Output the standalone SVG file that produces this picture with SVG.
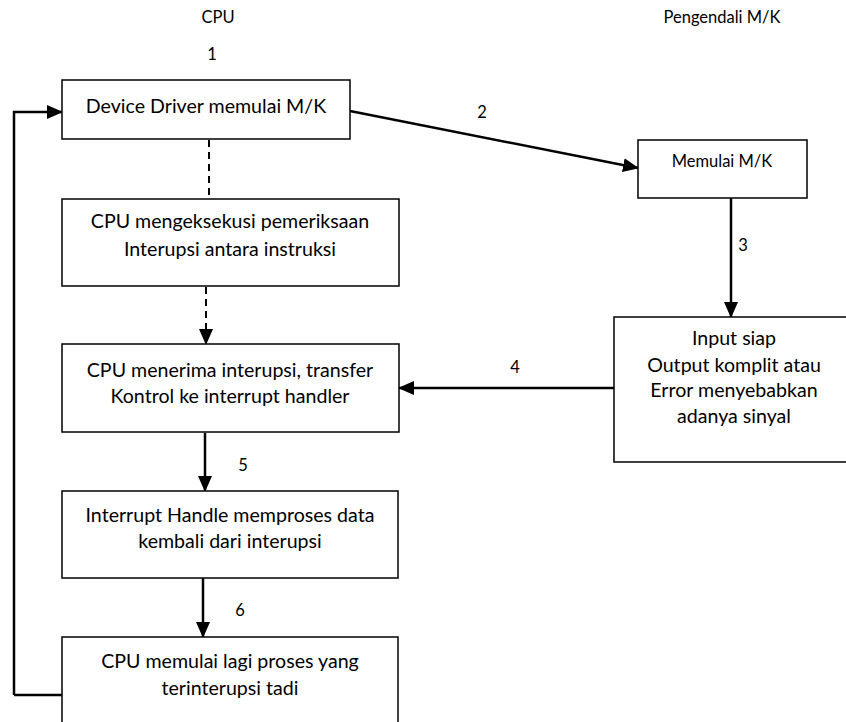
<svg xmlns="http://www.w3.org/2000/svg" width="846" height="722" viewBox="0 0 846 722">
  <defs>
    <marker id="arrowL" markerWidth="16" markerHeight="14" refX="15" refY="7" orient="auto" markerUnits="userSpaceOnUse" viewBox="0 0 16 14">
      <path d="M0,0 L16,7 L0,14 Z" fill="#000"/>
    </marker>
  </defs>
  <style>
    .box { fill: #fff; stroke: #000; stroke-width: 1.5; }
    .t { font-family: Lato, "Open Sans", "Liberation Sans", sans-serif; font-size: 19.6px; fill: #000; text-anchor: middle; }
    .s { font-family: Lato, "Open Sans", "Liberation Sans", sans-serif; font-size: 16.5px; fill: #000; text-anchor: middle; }
    .line { fill: none; stroke: #000; stroke-width: 2.5; }
    .dash { fill: none; stroke: #000; stroke-width: 2; stroke-dasharray: 7 5; }
  </style>
  <rect width="846" height="722" fill="#fff"/>

  <!-- column headings and step numbers -->
  <g id="labels">
    <text class="s" x="218" y="23">CPU</text>
    <text class="s" x="722" y="23">Pengendali M/K</text>
    <text class="s" x="212" y="60">1</text>
    <text class="s" x="482" y="118">2</text>
    <text class="s" x="743" y="251">3</text>
    <text class="s" x="515" y="373">4</text>
    <text class="s" x="243" y="471">5</text>
    <text class="s" x="240" y="616">6</text>
  </g>

  <!-- connectors -->
  <g id="connectors">
    <path class="line" d="M14,695 L14,112 L62,112" marker-end="url(#arrowL)"/>
    <path class="line" d="M350,111 L638,168" marker-end="url(#arrowL)"/>
    <path class="line" d="M731,198 L731,317" marker-end="url(#arrowL)"/>
    <path class="line" d="M614,388 L399,388" marker-end="url(#arrowL)"/>
    <path class="dash" d="M209,140 L209,199"/>
    <path class="dash" d="M206,287 L206,344" marker-end="url(#arrowL)"/>
    <path class="line" d="M205,433 L205,491" marker-end="url(#arrowL)"/>
    <path class="line" d="M203,578 L203,637" marker-end="url(#arrowL)"/>
    <path class="line" d="M14,695 L62,695"/>
  </g>

  <g id="n1">
    <rect class="box" x="62" y="80" width="288" height="59"/>
    <text class="t" x="206" y="113">Device Driver memulai M/K</text>
  </g>
  <g id="n2">
    <rect class="box" x="62" y="199" width="337" height="87"/>
    <text class="t" x="230" y="228">CPU mengeksekusi pemeriksaan</text>
    <text class="t" x="230" y="256">Interupsi antara instruksi</text>
  </g>
  <g id="n3">
    <rect class="box" x="62" y="344" width="337" height="88"/>
    <text class="t" x="230" y="377">CPU menerima interupsi, transfer</text>
    <text class="t" x="230" y="403">Kontrol ke interrupt handler</text>
  </g>
  <g id="n4">
    <rect class="box" x="62" y="491" width="336" height="87"/>
    <text class="t" x="230" y="522">Interrupt Handle memproses data</text>
    <text class="t" x="230" y="548">kembali dari interupsi</text>
  </g>
  <g id="n5">
    <rect class="box" x="62" y="637" width="336" height="90"/>
    <text class="t" x="230" y="668">CPU memulai lagi proses yang</text>
    <text class="t" x="230" y="695">terinterupsi tadi</text>
  </g>
  <g id="n6">
    <rect class="box" x="638" y="140" width="169" height="58"/>
    <text class="s" x="722" y="167">Memulai M/K</text>
  </g>
  <g id="n7">
    <rect class="box" x="614" y="317" width="236" height="145"/>
    <text class="t" x="734" y="345">Input siap</text>
    <text class="t" x="734" y="372">Output komplit atau</text>
    <text class="t" x="734" y="397">Error menyebabkan</text>
    <text class="t" x="734" y="423">adanya sinyal</text>
  </g>
</svg>
